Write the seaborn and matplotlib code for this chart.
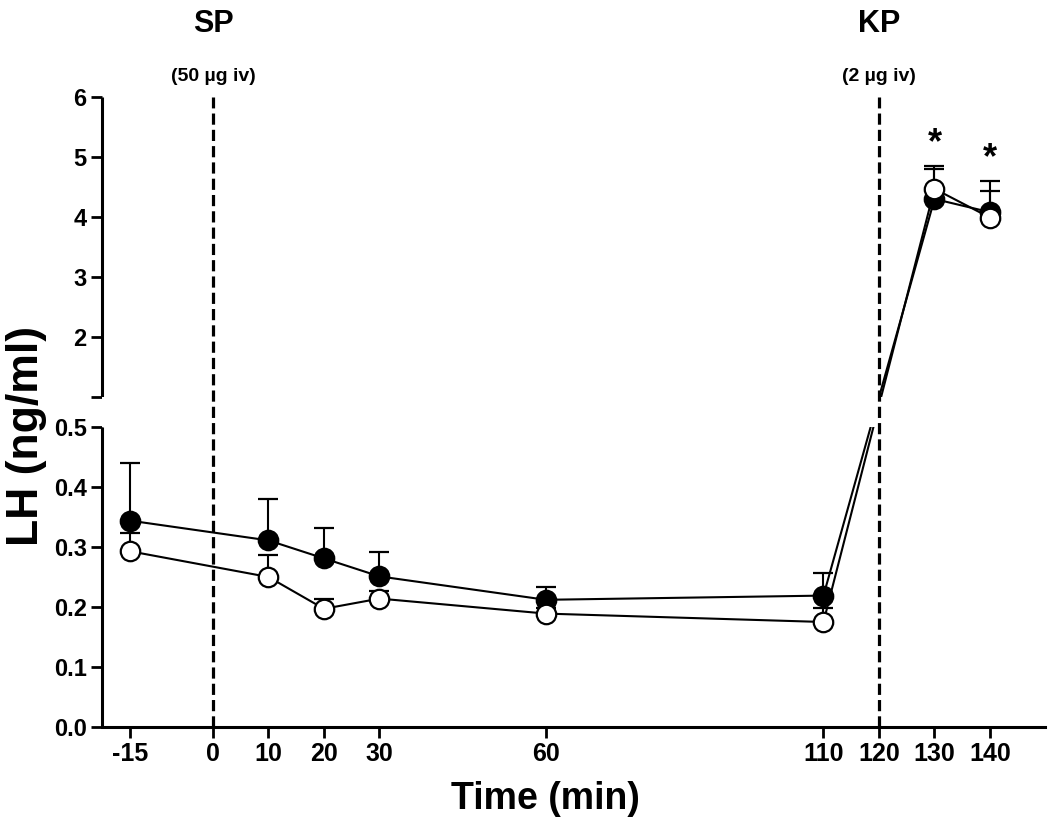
import numpy as np
import seaborn as sns
import matplotlib.pyplot as plt

# Zeitpunkte (min) und LH-Werte (ng/ml), Mittelwert + SEM (nur nach oben)
time_min = [-15, 10, 20, 30, 60, 110, 130, 140]
lh_filled = [0.344, 0.311, 0.281, 0.251, 0.212, 0.219, 4.30, 4.08]
sem_filled = [0.096, 0.069, 0.050, 0.040, 0.021, 0.038, 0.50, 0.52]
lh_open = [0.293, 0.250, 0.197, 0.214, 0.189, 0.175, 4.47, 3.99]
sem_open = [0.030, 0.037, 0.016, 0.012, 0.010, 0.023, 0.38, 0.44]

x_ticks = [-15, 0, 10, 20, 30, 60, 110, 120, 130, 140]
y_ticks = [0.0, 0.1, 0.2, 0.3, 0.4, 0.5, 1, 2, 3, 4, 5, 6]
y_ticklabels = ["0.0", "0.1", "0.2", "0.3", "0.4", "0.5", "", "2", "3", "4", "5", "6"]

injections = [0, 120]
inj_names = ["SP", "KP"]
inj_doses = ["(50 µg iv)", "(2 µg iv)"]
signif_x = [130, 140]
signif_y = [5.22, 4.97]


# unterbrochene y-Achse: 0-0.5 unten, 1-6 oben, mit Lücke dazwischen
def fwd(y):
    y = np.asarray(y, dtype=float)
    return np.where(y <= 0.5, y * 600,
                    np.where(y <= 1, 300 + (y - 0.5) * 60, 330 + (y - 1) * 60))


def inv(t):
    t = np.asarray(t, dtype=float)
    return np.where(t <= 300, t / 600,
                    np.where(t <= 330, 0.5 + (t - 300) / 60, 1 + (t - 330) / 60))


sns.set_style("ticks")
plt.rcParams["font.family"] = ["Liberation Sans", "DejaVu Sans"]
plt.rcParams.update({"text.color": "black", "axes.labelcolor": "black",
                     "xtick.color": "black", "ytick.color": "black"})

fig = plt.figure(figsize=(10.5, 8.34), dpi=100)
ax = fig.add_axes([0.0971, 0.1283, 0.8986, 0.7554])
ax.set_yscale("function", functions=(fwd, inv))

ms = 14
for y, err, fc in [(lh_filled, sem_filled, "black"), (lh_open, sem_open, "white")]:
    ax.errorbar(time_min, y, yerr=[np.zeros(len(err)), err], fmt="none",
                ecolor="black", elinewidth=1.5, capsize=7, capthick=1.6, zorder=2)
    sns.lineplot(x=time_min, y=y, ax=ax, color="black", linewidth=1.5,
                 marker="o", markersize=ms, markerfacecolor=fc,
                 markeredgecolor="black", markeredgewidth=1.6, zorder=2.2)

# Lücke der Achse freistellen
ax.axhspan(0.5, 1.0, color="white", zorder=2.6, lw=0)

for xv, name, dose in zip(injections, inj_names, inj_doses):
    ax.axvline(xv, color="black", lw=2.3, dashes=(3.5, 1.6), zorder=3)
    ax.text(xv, 1.116, name, transform=ax.get_xaxis_transform(), ha="center",
            va="center", fontsize=22, fontweight="bold")
    ax.text(xv, 1.033, dose, transform=ax.get_xaxis_transform(), ha="center",
            va="center", fontsize=14, fontweight="bold")

for xs, ys in zip(signif_x, signif_y):
    ax.text(xs, ys, "*", ha="center", va="center", fontsize=26, fontweight="bold")

ax.set_xlim(-20, 150)
ax.set_ylim(0, 6)
ax.set_xticks(x_ticks)
ax.set_xticklabels([str(v) for v in x_ticks], fontsize=18, fontweight="bold")
ax.set_yticks(y_ticks)
ax.set_yticklabels(y_ticklabels, fontsize=17, fontweight="bold")
ax.tick_params(axis="both", width=2, length=8, color="black", pad=3)

# linke Achse zweigeteilt
sns.despine(ax=ax, left=True)
ax.spines["bottom"].set_linewidth(2.2)
ax.spines["bottom"].set_color("black")
for lo, hi in [(0, 0.5), (1, 6)]:
    ax.plot([0, 0], [lo, hi], transform=ax.get_yaxis_transform(), color="black",
            lw=2.2, clip_on=False, solid_capstyle="butt")

ax.set_xlabel("Time (min)", fontsize=27, fontweight="bold")
ax.set_ylabel("LH (ng/ml)", fontsize=32, fontweight="bold")
ax.yaxis.set_label_coords(-0.058, 0.462)
ax.xaxis.set_label_coords(0.47, -0.085)

fig.savefig("out.png", dpi=100)
